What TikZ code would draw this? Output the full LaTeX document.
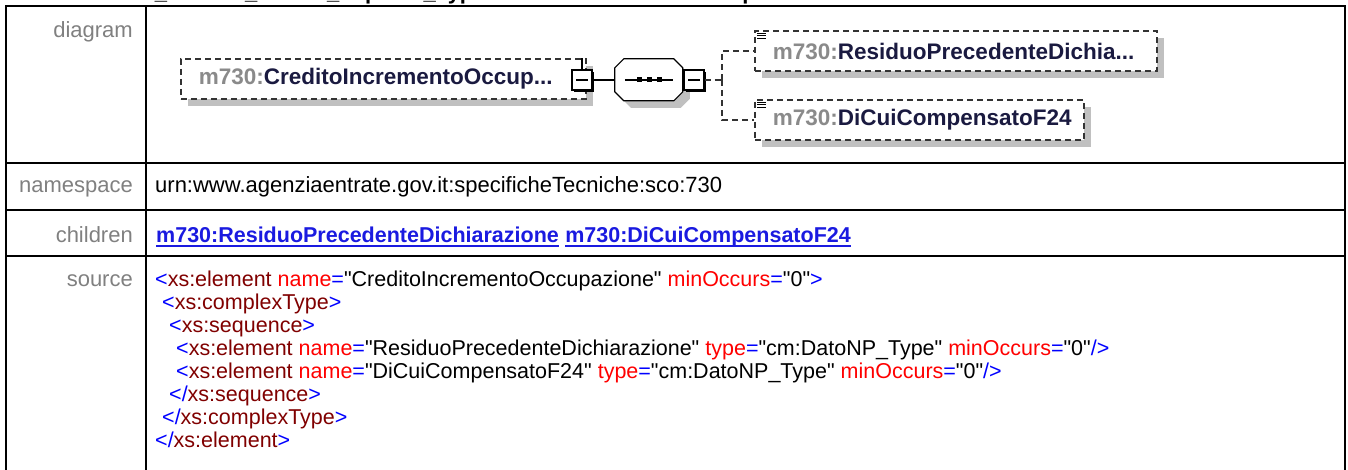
\documentclass[tikz,border=0pt]{standalone}
\usepackage{fontspec}
\setmainfont{Liberation Sans}[Ligatures=TeXOff]
\usetikzlibrary{shapes,shadows,calc,positioning}

\definecolor{fg}{HTML}{1A1A40}
\definecolor{pfx}{HTML}{8A8A8A}
\definecolor{lblgray}{HTML}{808080}
\definecolor{dgray}{HTML}{333333}
\definecolor{shd}{HTML}{C0C0C0}
\definecolor{lnk}{HTML}{1A1AE0}
\definecolor{xblue}{HTML}{0000FF}
\definecolor{xtag}{HTML}{800000}
\definecolor{xred}{HTML}{FF0000}

\newcommand\elname[2]{\makebox[#1][l]{\textcolor{pfx}{m730:}#2}}
\newcommand\xb[1]{\textcolor{xblue}{#1}}
\newcommand\xt[1]{\textcolor{xtag}{#1}}
\newcommand\xa[1]{\textcolor{xred}{#1}}

\tikzstyle{grid}=[line width=2pt, black]
\tikzstyle{lbl}=[anchor=base east, inner sep=0pt, text=lblgray, font=\fontsize{22}{24}\selectfont]
\tikzstyle{val}=[anchor=base west, inner sep=0pt, font=\fontsize{22}{24}\selectfont]
\tikzstyle{srcline}=[val, font=\fontsize{21.5}{24}\selectfont]
\tikzstyle{elem}=[draw=dgray, dash pattern=on 6pt off 4pt, line width=1.8pt, fill=white,
minimum height=40pt, inner xsep=18pt, inner ysep=0pt, anchor=west,
font=\bfseries\fontsize{22.5}{26}\selectfont, text=fg,
drop shadow={shadow xshift=7pt, shadow yshift=-7pt, fill=shd, opacity=1}]
\tikzstyle{fold}=[draw=black, line width=1.2pt, fill=white, minimum size=20pt, inner sep=0pt,
drop shadow={shadow xshift=2pt, shadow yshift=-2pt, fill=black, opacity=1},
path picture={\draw[line width=1.2pt] ([xshift=4pt]path picture bounding box.west) -- ([xshift=-4pt]path picture bounding box.east);}]
\tikzstyle{seqbox}=[minimum width=68pt, minimum height=42pt, inner sep=0pt]
\tikzstyle{link}=[line width=1.2pt, black]
\tikzstyle{optlink}=[line width=1.8pt, dgray, dash pattern=on 6pt off 4pt]

\begin{document}
\begin{tikzpicture}[x=1pt, y=-1pt]
    \useasboundingbox (0,0) rectangle (1348,470);

    % title, cut off at the top
    \node[anchor=base west, inner sep=0pt, font=\bfseries\fontsize{22}{26}\selectfont] (title) at (3,-0.5)
        {element Punto\_Modulo\_Crediti\_Imposta\_Type/CreditoIncrementoOccupazione};

    % table
    \draw[grid] (6,480) -- (6,6) -- (1345,6) -- (1345,480);
    \draw[grid] (146,6) -- (146,480);
    \foreach \y in {163,210,256} \draw[grid] (6,\y) -- (1345,\y);

    \node[lbl] (ldiag) at (133,38) {diagram};
    \node[lbl] (lns) at (133,193) {namespace};
    \node[lbl] (lch) at (133,243) {children};
    \node[lbl] (lsrc) at (133,286) {source};

    \node[val] (ns) at (155,193) {urn:www.agenziaentrate.gov.it:specificheTecniche:sco:730};

    \node[val, text=lnk, font=\bfseries\fontsize{21.5}{24}\selectfont] (lnk1) at (156,243) {m730:ResiduoPrecedenteDichiarazione};
    \node[val, text=lnk, font=\bfseries\fontsize{21.5}{24}\selectfont] (lnk2) at ([xshift=6pt]lnk1.base east) {m730:DiCuiCompensatoF24};
    \draw[lnk, line width=1.6pt] ([yshift=-3pt]lnk1.base west) -- ([yshift=-3pt]lnk1.base east);
    \draw[lnk, line width=1.6pt] ([yshift=-3pt]lnk2.base west) -- ([yshift=-3pt]lnk2.base east);

    % source
    \node[srcline] (src1) at (155,286) {\xb{<}\xt{xs:element} \xa{name}\xb{=}"CreditoIncrementoOccupazione" \xa{minOccurs}\xb{=}"0"\xb{>}};
    \node[srcline] (src2) at (162,309) {\xb{<}\xt{xs:complexType}\xb{>}};
    \node[srcline] (src3) at (169,332) {\xb{<}\xt{xs:sequence}\xb{>}};
    \node[srcline] (src4) at (176,355) {\xb{<}\xt{xs:element} \xa{name}\xb{=}"ResiduoPrecedenteDichiarazione" \xa{type}\xb{=}"cm:DatoNP\_Type" \xa{minOccurs}\xb{=}"0"\xb{/>}};
    \node[srcline] (src5) at (176,378) {\xb{<}\xt{xs:element} \xa{name}\xb{=}"DiCuiCompensatoF24" \xa{type}\xb{=}"cm:DatoNP\_Type" \xa{minOccurs}\xb{=}"0"\xb{/>}};
    \node[srcline] (src6) at (169,401) {\xb{</}\xt{xs:sequence}\xb{>}};
    \node[srcline] (src7) at (162,424) {\xb{</}\xt{xs:complexType}\xb{>}};
    \node[srcline] (src8) at (155,447) {\xb{</}\xt{xs:element}\xb{>}};

    % diagram
    \node[elem] (elem) at (180,79) {\elname{369pt}{CreditoIncrementoOccup...}};
    \node[fold] (elemx) at (582,80) {};
    \draw[link] (elemx.north) -- (elemx.north |- elem.north);

    \node[seqbox] (seq) at (649,80) {};
    \fill[shd] ([shift={(7,7)}]seq.north west) ++(9,0) -- ++(50,0) -- ++(9,9) -- ++(0,24) -- ++(-9,9) -- ++(-50,0) -- ++(-9,-9) -- ++(0,-24) -- cycle;
    \draw[link, fill=white] (seq.north west) ++(9,0) -- ++(50,0) -- ++(9,9) -- ++(0,24) -- ++(-9,9) -- ++(-50,0) -- ++(-9,-9) -- ++(0,-24) -- cycle;
    \draw[link] (elemx.east) -- (seq.west);
    \draw[link] ([xshift=10pt]seq.west) -- ([xshift=-10pt]seq.east);
    \foreach \d in {-10,0,10}
        \fill ($(seq.center)+(\d,0)$) +(-2.5,-2.5) rectangle +(2.5,2.5);
    \node[fold] (seqx) at (694,80) {};

    \node[elem] (resid) at (754,51) {\elname{366pt}{ResiduoPrecedenteDichia...}};
    \node[elem] (dicui) at (754,120) {\elname{293pt}{DiCuiCompensatoF24}};
    \foreach \n in {resid,dicui}
        \foreach \k in {3,5.5,8}
            \draw[line width=1pt] ($(\n.north west)+(3,\k)$) -- ++(9,0);

    \coordinate (fork) at (722,80);
    \draw[optlink] (seqx.east) -- (fork);
    \draw[optlink] (fork) |- (resid.west);
    \draw[optlink] (fork) |- (dicui.west);

\end{tikzpicture}
\end{document}
